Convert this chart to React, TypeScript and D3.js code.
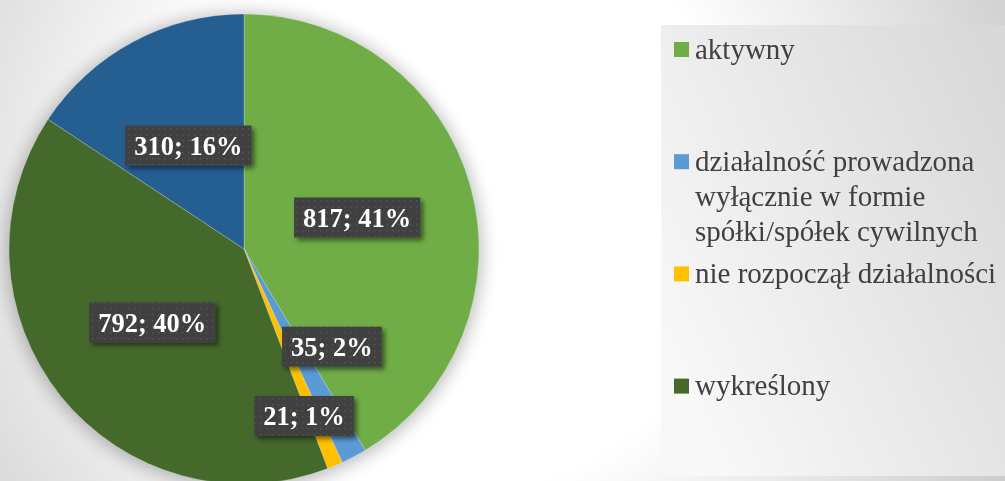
import React, { useMemo } from "react";
import * as d3 from "d3";

const categories = [
  "aktywny",
  "działalność prowadzona wyłącznie w formie spółki/spółek cywilnych",
  "nie rozpoczął działalności",
  "wykreślony",
  "zawieszony",
];
const values = [817, 35, 21, 792, 310];
const percentLabels = ["41%", "2%", "1%", "40%", "16%"];
const colors = ["#70AD47", "#5B9BD5", "#FFC000", "#44692B", "#255E91"];

const W = 1005;
const H = 481;
const SERIF = "'Liberation Serif', 'DejaVu Serif'";

function wrapText(text: string, font: string, maxW: number): string[] {
  const canvas = document.createElement("canvas");
  const ctx = canvas.getContext("2d")!;
  ctx.font = font;
  const words = text.split(" ");
  const lines: string[] = [];
  let cur = "";
  for (const w of words) {
    const test = cur ? cur + " " + w : w;
    if (ctx.measureText(test).width > maxW && cur) {
      lines.push(cur);
      cur = w;
    } else cur = test;
  }
  if (cur) lines.push(cur);
  return lines;
}

export default function App() {
  const cx = 244;
  const cy = 249;
  const r = 235;

  const pie = d3.pie<number>().sort(null).value((d) => d);
  const arcs = pie(values);
  const arcGen = d3.arc<d3.PieArcDatum<number>>().innerRadius(0).outerRadius(r);

  // label layout: radius factor along mid-angle plus a small nudge (Excel best-fit style)
  const labelLayout = [
    { k: 0.5, dx: 0, dy: 0 },
    { k: 0.6, dx: 22, dy: -27 },
    { k: 0.78, dx: -11, dy: -2 },
    { k: 0.5, dx: 0, dy: 0 },
    { k: 0.5, dx: 0, dy: 0 },
  ];

  const labelSize = 26.5;
  const labelFont = `bold ${labelSize}px ${SERIF}`;
  const legendFontSize = 29;
  const legendFont = `${legendFontSize}px ${SERIF}`;

  const measurer = useMemo(() => {
    const c = document.createElement("canvas").getContext("2d")!;
    return (t: string, f: string) => {
      c.font = f;
      return c.measureText(t).width;
    };
  }, []);

  const legendY = d3.scaleLinear().domain([0, 1]).range([58.5, 170.7]);

  return (
    <svg width={W} height={H} style={{ position: "fixed", left: 0, top: 0 }}>
      <defs>
        <radialGradient id="bg" gradientUnits="userSpaceOnUse" cx={450} cy={200} r={650}>
          <stop offset="0" stopColor="#ffffff" />
          <stop offset="0.45" stopColor="#ffffff" />
          <stop offset="1" stopColor="#c8c8c8" />
        </radialGradient>
        <linearGradient id="legbg" x1="0" y1="0.7" x2="1" y2="0.1">
          <stop offset="0" stopColor="#f8f8f8" />
          <stop offset="1" stopColor="#d8d8d8" />
        </linearGradient>
        <filter id="pieShadow" x="-20%" y="-20%" width="140%" height="140%">
          <feGaussianBlur stdDeviation="9" />
        </filter>
        <filter id="boxShadow" x="-20%" y="-30%" width="150%" height="170%">
          <feGaussianBlur in="SourceAlpha" stdDeviation="2.5" />
          <feOffset dx="3" dy="3" result="b" />
          <feComponentTransfer>
            <feFuncA type="linear" slope="0.5" />
          </feComponentTransfer>
          <feMerge>
            <feMergeNode />
            <feMergeNode in="SourceGraphic" />
          </feMerge>
        </filter>
        <pattern id="dots" width="6" height="6" patternUnits="userSpaceOnUse">
          <rect width="6" height="6" fill="#3f3f3f" />
          <rect x="2" y="2" width="1.5" height="1.5" fill="#555555" />
        </pattern>
      </defs>

      <rect x={0} y={0} width={W} height={H} fill="url(#bg)" />
      <rect x={661} y={25} width={W - 661} height={451} fill="url(#legbg)" />

      <circle cx={cx} cy={cy + 2} r={r + 2} fill="#000" opacity={0.28} filter="url(#pieShadow)" />

      <g transform={`translate(${cx},${cy})`}>
        {arcs.map((a, i) => (
          <path key={i} d={arcGen(a) || ""} fill={colors[i]} stroke="#ffffff" strokeWidth={0.4} strokeOpacity={0.6} />
        ))}
      </g>

      {arcs.map((a, i) => {
        const mid = (a.startAngle + a.endAngle) / 2;
        const L = labelLayout[i];
        const px = cx + Math.sin(mid) * r * L.k + L.dx;
        const py = cy - Math.cos(mid) * r * L.k + L.dy;
        const text = `${values[i]}; ${percentLabels[i]}`;
        const tw = measurer(text, labelFont);
        const bw = tw + 18;
        const bh = 40;
        return (
          <g key={i} filter="url(#boxShadow)">
            <rect x={px - bw / 2} y={py - bh / 2} width={bw} height={bh} fill="url(#dots)" />
            <text
              x={px}
              y={py + 9.5}
              textAnchor="middle"
              fill="#ffffff"
              style={{ fontFamily: SERIF, fontWeight: 700, fontSize: `${labelSize}px` }}
            >
              {text}
            </text>
          </g>
        );
      })}

      {categories.map((c, i) => {
        const base = legendY(i);
        if (base > H - 10) return null;
        const lines = wrapText(c, legendFont, 308);
        return (
          <g key={i}>
            <rect x={674} y={base - 16.5} width={15} height={15} fill={colors[i]} />
            <text
              x={695}
              y={base}
              fill="#404040"
              style={{ fontFamily: SERIF, fontSize: `${legendFontSize}px` }}
            >
              {lines.map((ln, j) => (
                <tspan key={j} x={695} dy={j === 0 ? 0 : 35}>
                  {ln}
                </tspan>
              ))}
            </text>
          </g>
        );
      })}
    </svg>
  );
}
